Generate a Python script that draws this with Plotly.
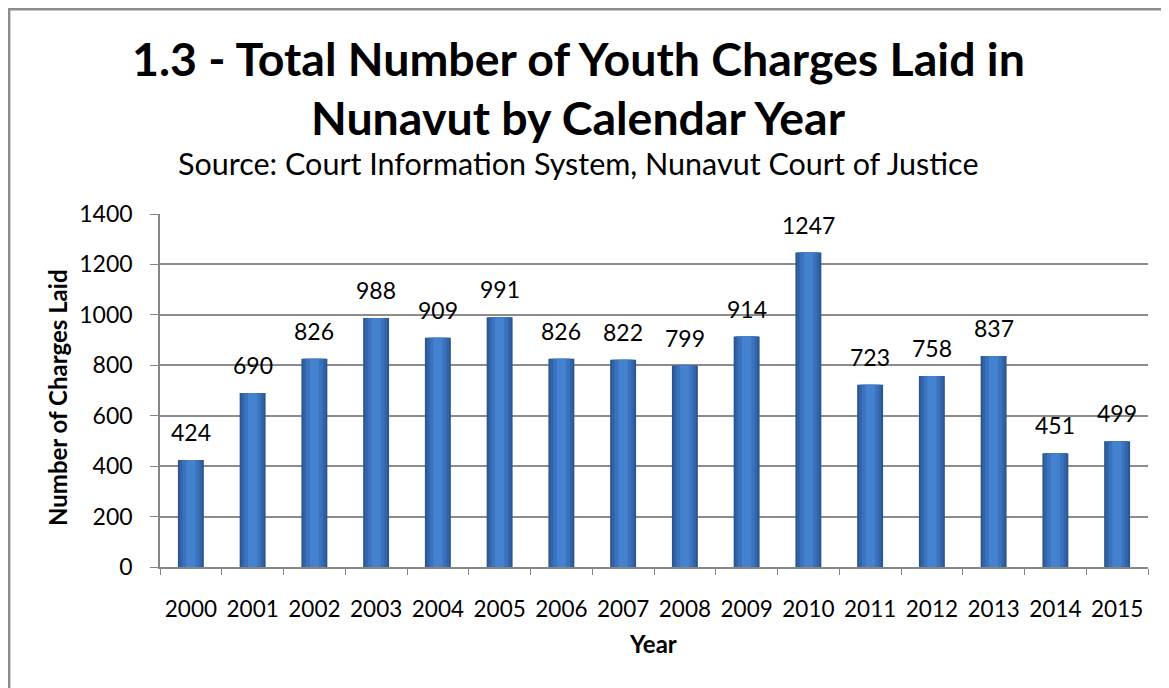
import plotly.graph_objects as go

years = ["2000", "2001", "2002", "2003", "2004", "2005", "2006", "2007",
         "2008", "2009", "2010", "2011", "2012", "2013", "2014", "2015"]
charges = [424, 690, 826, 988, 909, 991, 826, 822, 799, 914, 1247, 723, 758, 837, 451, 499]
y_ticks = [0, 200, 400, 600, 800, 1000, 1200, 1400]

OFF = 8  # page body margin offset
W, H = 1169 - OFF, 688 - OFF
L, T = 160 - OFF, 214 - OFF
R = W - (1148 - OFF)
B = H - (567 - OFF)
PW, PH = W - L - R, H - T - B
FONT = "Lato"


def px_x(x):
    return (x - OFF - L) / PW


def px_y(y):
    return (H - B - (y - OFF)) / PH


fig = go.Figure()

# Layered bars to imitate the horizontal gradient of the original
layers = [(0.42, "#2B5590"), (0.36, "#3264A8"), (0.27, "#3A72BD"), (0.15, "#4482D0")]
for w, c in layers:
    fig.add_trace(go.Bar(
        x=years, y=charges, width=w, marker=dict(color=c, line=dict(width=0)),
        hoverinfo="skip", showlegend=False,
    ))

# value labels: positioned by category index on the category axis
annotations = [
    dict(x=i, y=v, xref="x", yref="y", text=str(v), showarrow=False,
         yanchor="bottom", xanchor="center", yshift=12,
         font=dict(family=FONT, size=23, color="#000000"))
    for i, v in enumerate(charges)
]
annotations += [
    dict(text="<b>1.3 - Total Number of Youth Charges Laid in</b>",
         xref="paper", yref="paper", x=px_x(578), y=px_y(58), xanchor="center", yanchor="middle",
         showarrow=False, font=dict(family=FONT, size=46.5)),
    dict(text="<b>Nunavut by Calendar Year</b>",
         xref="paper", yref="paper", x=px_x(578), y=px_y(117), xanchor="center", yanchor="middle",
         showarrow=False, font=dict(family=FONT, size=46.5)),
    dict(text="Source: Court Information System, Nunavut Court of Justice",
         xref="paper", yref="paper", x=px_x(578), y=px_y(163), xanchor="center", yanchor="middle",
         showarrow=False, font=dict(family=FONT, size=30.5)),
    dict(text="<b>Number of Charges Laid</b>", textangle=-90,
         xref="paper", yref="paper", x=px_x(57), y=px_y(398), xanchor="center", yanchor="middle",
         showarrow=False, font=dict(family=FONT, size=24)),
    dict(text="<b>Year</b>",
         xref="paper", yref="paper", x=px_x(653), y=px_y(643), xanchor="center", yanchor="middle",
         showarrow=False, font=dict(family=FONT, size=24)),
]

fig.update_layout(
    width=W, height=H, barmode="overlay",
    margin=dict(l=L, r=R, t=T, b=B, pad=0),
    paper_bgcolor="white", plot_bgcolor="white",
    font=dict(family=FONT, color="#000000"),
    xaxis=dict(
        type="category", range=[-0.5, len(years) - 0.5], showgrid=False,
        showline=True, linecolor="#868686", linewidth=1.5,
        ticks="outside", tickson="boundaries", ticklen=6, tickcolor="#868686",
        tickfont=dict(family=FONT, size=22.5), ticklabelstandoff=21,
        tickangle=0, automargin=False,
    ),
    yaxis=dict(
        range=[0, 1400], tickvals=y_ticks, showgrid=True, gridcolor="#8C8C8C", gridwidth=1.5,
        showline=True, linecolor="#868686", linewidth=1.5, zeroline=False,
        ticks="outside", ticklen=8, tickcolor="#868686",
        tickfont=dict(family=FONT, size=23), ticklabelstandoff=13, automargin=False,
    ),
    annotations=annotations,
    shapes=[dict(type="rect", xref="paper", yref="paper",
                 x0=px_x(9.2), x1=px_x(1250), y0=px_y(760), y1=px_y(9.2),
                 line=dict(color="#8C8C8C", width=2.4), fillcolor="rgba(0,0,0,0)", layer="below")],
)

fig.write_html("out.html")
